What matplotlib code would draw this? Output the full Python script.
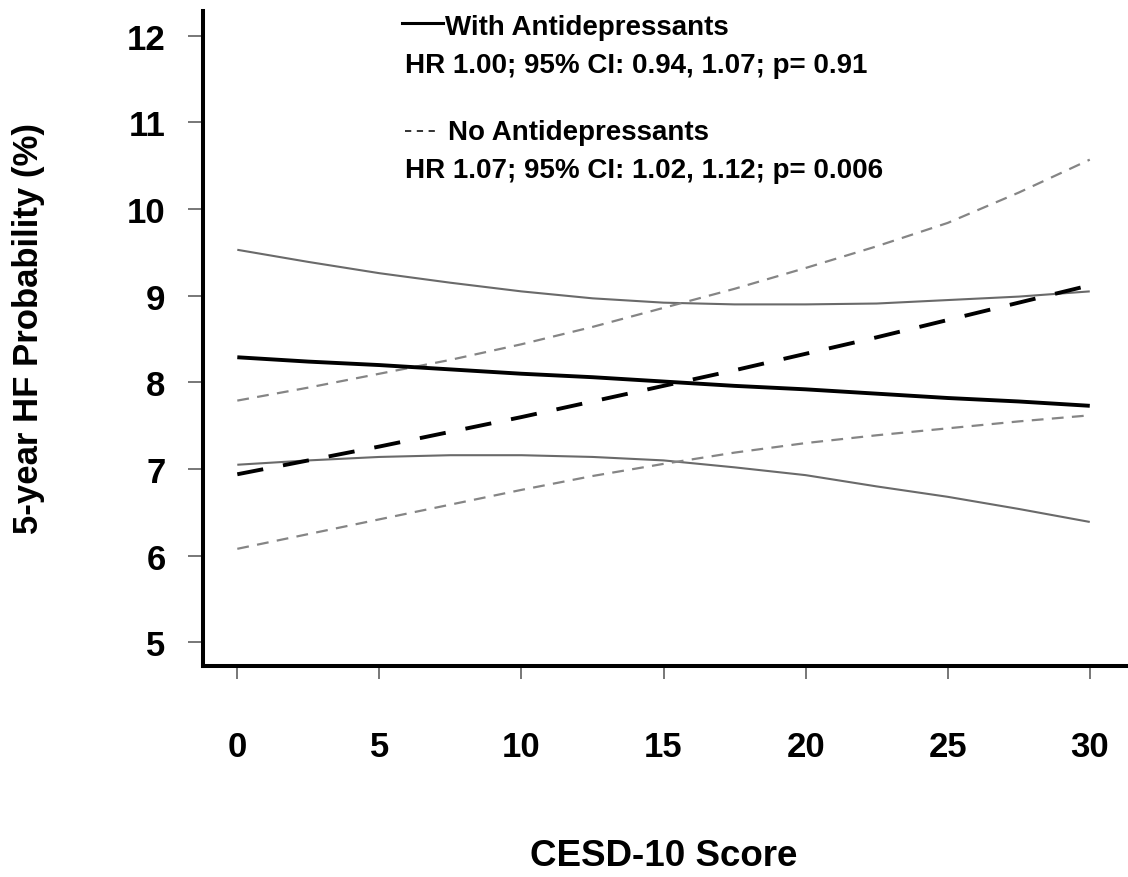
import matplotlib
matplotlib.use("Agg")
import matplotlib.pyplot as plt
from matplotlib.lines import Line2D

# ---- data ----
cesd = [0, 2.5, 5, 7.5, 10, 12.5, 15, 17.5, 20, 22.5, 25, 27.5, 30]
with_est = [8.29, 8.24, 8.20, 8.15, 8.10, 8.06, 8.01, 7.96, 7.92, 7.87, 7.82, 7.78, 7.73]
with_lo = [7.05, 7.10, 7.14, 7.16, 7.16, 7.14, 7.10, 7.02, 6.93, 6.80, 6.68, 6.54, 6.39]
with_hi = [9.53, 9.39, 9.26, 9.15, 9.05, 8.97, 8.92, 8.90, 8.90, 8.91, 8.95, 8.99, 9.05]
no_est = [6.94, 7.10, 7.26, 7.43, 7.60, 7.78, 7.96, 8.14, 8.33, 8.52, 8.72, 8.92, 9.12]
no_lo = [6.08, 6.25, 6.42, 6.59, 6.76, 6.92, 7.06, 7.19, 7.30, 7.39, 7.47, 7.55, 7.62]
no_hi = [7.79, 7.94, 8.10, 8.26, 8.44, 8.64, 8.86, 9.08, 9.32, 9.57, 9.84, 10.19, 10.57]

x_ticks = [0, 5, 10, 15, 20, 25, 30]
y_ticks = [5, 6, 7, 8, 9, 10, 11, 12]

legend_with = "With Antidepressants"
stats_with = "HR 1.00; 95% CI: 0.94, 1.07; p= 0.91"
legend_no = "No Antidepressants"
stats_no = "HR 1.07; 95% CI: 1.02, 1.12; p= 0.006"

plt.rcParams['font.family'] = ['Liberation Sans', 'DejaVu Sans']
plt.rcParams['font.weight'] = 'bold'
plt.rcParams['lines.scale_dashes'] = False

W, H = 1128, 878
fig = plt.figure(figsize=(W / 100, H / 100), dpi=100)
ax = fig.add_axes([203 / W, (H - 667) / H, (1127 - 203) / W, (667 - 12) / H])

gray_solid = '#6a6a6a'
gray_dash = '#858585'

ax.plot(cesd, with_hi, color=gray_solid, lw=1.5, solid_capstyle='butt')
ax.plot(cesd, with_lo, color=gray_solid, lw=1.5, solid_capstyle='butt')
ax.plot(cesd, no_hi, color=gray_dash, lw=1.6, dashes=(8.5, 6), dash_capstyle='butt')
ax.plot(cesd, no_lo, color=gray_dash, lw=1.6, dashes=(8.5, 6), dash_capstyle='butt')
ax.plot(cesd, with_est, color='black', lw=2.8, solid_capstyle='butt')
ax.plot(cesd, no_est, color='black', lw=2.8, dashes=(19, 14.5), dash_capstyle='butt')

ax.set_xlim(-1.207, 31.31)
ax.set_ylim(4.728, 12.285)
ax.set_xticks(x_ticks)
ax.set_yticks(y_ticks)
ax.set_xticklabels([str(v) for v in x_ticks], fontsize=25, fontweight='bold')
ax.set_yticklabels([str(v) for v in y_ticks], fontsize=25, fontweight='bold')
ax.tick_params(axis='y', length=11, width=1.4, color='#777777', pad=16)
ax.tick_params(axis='x', length=9.4, width=1.4, color='#777777', pad=36.5)

for s in ['top', 'right']:
    ax.spines[s].set_visible(False)
for s in ['left', 'bottom']:
    ax.spines[s].set_linewidth(2.9)
    ax.spines[s].set_color('black')

fig.text(664 / W, 1 - 857 / H, "CESD-10 Score", fontsize=26.5, fontweight='bold',
         ha='center', va='center')
fig.text(29 / W, 1 - 329 / H, "5-year HF Probability (%)", fontsize=25, fontweight='bold',
         ha='center', va='center', rotation=90)

# legend-like annotation
fs = 20
fig.text(445 / W, 1 - 35 / H, legend_with, fontsize=fs, fontweight='bold', ha='left', va='baseline')
fig.text(405 / W, 1 - 73 / H, stats_with, fontsize=fs, fontweight='bold', ha='left', va='baseline')
fig.text(448 / W, 1 - 140 / H, legend_no, fontsize=fs, fontweight='bold', ha='left', va='baseline')
fig.text(405 / W, 1 - 178 / H, stats_no, fontsize=fs, fontweight='bold', ha='left', va='baseline')
fig.add_artist(Line2D([402 / W, 443 / W], [1 - 24 / H, 1 - 24 / H], transform=fig.transFigure,
                      color='black', lw=2.2))
fig.add_artist(Line2D([405 / W, 437 / W], [1 - 132 / H, 1 - 132 / H], transform=fig.transFigure,
                      color='#333333', lw=1.4, dashes=(4.5, 4)))

fig.savefig("out.png", dpi=100)
